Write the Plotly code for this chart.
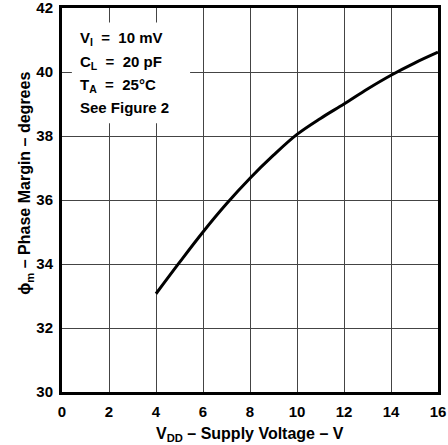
import plotly.graph_objects as go

vdd = [4, 5, 6, 7, 8, 9, 10, 11, 12, 13, 14, 15, 16]
phase_margin = [33.07, 34.05, 35.0, 35.88, 36.68, 37.4, 38.05, 38.55, 39.0, 39.47, 39.9, 40.28, 40.62]
x_ticks = [0, 2, 4, 6, 8, 10, 12, 14, 16]
y_ticks = [30, 32, 34, 36, 38, 40, 42]
note_lines = ["V<sub>I</sub>  =  10 mV", "C<sub>L</sub>  =  20 pF", "T<sub>A</sub>  =  25°C", "See Figure 2"]
note_y = [41.06, 40.31, 39.59, 38.88]

FONT = "Liberation Sans, Arial, sans-serif"

fig = go.Figure()
fig.add_trace(go.Scatter(x=vdd, y=phase_margin, mode="lines",
                         line=dict(color="black", width=3, shape="spline"),
                         showlegend=False, hoverinfo="skip"))

fig.add_shape(type="rect", xref="x", yref="y", x0=0.42, x1=5.45, y0=38.4, y1=41.55,
              fillcolor="white", line=dict(width=0), layer="above")

for t, yy in zip(note_lines, note_y):
    fig.add_annotation(x=0.043, xref="paper", y=yy, yref="y", text=t, showarrow=False,
                       xanchor="left", yanchor="middle",
                       font=dict(family=FONT, size=15, color="black", weight="bold"))

fig.add_annotation(x=-0.097, xref="paper", y=0.544, yref="paper",
                   text="ϕ<sub>m</sub> – Phase Margin – degrees", textangle=-90,
                   showarrow=False, xanchor="center", yanchor="middle",
                   font=dict(family=FONT, size=16, color="black", weight="bold"))

fig.add_annotation(x=0.5, xref="paper", y=-0.11, yref="paper",
                   text="V<sub>DD</sub> – Supply Voltage – V",
                   showarrow=False, xanchor="center", yanchor="middle",
                   font=dict(family=FONT, size=16, color="black", weight="bold"))

fig.update_layout(
    width=448, height=445,
    margin=dict(l=62, r=10, t=8, b=53, autoexpand=False),
    paper_bgcolor="white", plot_bgcolor="white",
    font=dict(family=FONT, size=15, color="black", weight="bold"),
    xaxis=dict(range=[0, 16], tickvals=x_ticks, ticktext=[str(v) for v in x_ticks],
               showgrid=True, gridcolor="#444", gridwidth=1, zeroline=False,
               showline=True, linecolor="black", linewidth=3, mirror=True,
               ticks="", ticklabelstandoff=4, automargin=False, ticklabeloverflow="allow"),
    yaxis=dict(range=[30, 42], tickvals=y_ticks, ticktext=[str(v) for v in y_ticks],
               showgrid=True, gridcolor="#444", gridwidth=1, zeroline=False,
               showline=True, linecolor="black", linewidth=3, mirror=True,
               ticks="", ticklabelstandoff=3, automargin=False, ticklabeloverflow="allow"),
)

fig.write_html("out.html", config={"displayModeBar": False},
               post_script="document.body.style.margin='0px';document.body.style.overflow='hidden';")
